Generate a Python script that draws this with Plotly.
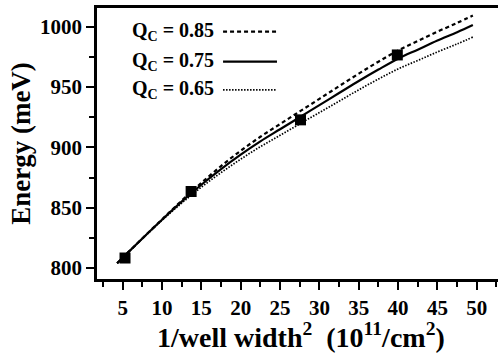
import plotly.graph_objects as go

# ---- data ----
x_curve = [4.3, 5, 7.5, 10, 12.5, 15, 17.5, 20, 22.5, 25, 27.5, 30, 32.5, 35, 37.5, 40, 42.5, 45, 47.5, 49.5]
e_qc085 = [804, 808.5, 824.5, 840.3, 855.8, 870.5, 884.5, 897.2, 908.8, 919.3, 929.8, 940.2, 950.7, 961.1, 971, 980.3, 988.1, 995.9, 1003.1, 1009.3]
e_qc075 = [804, 808.5, 824.5, 840, 855, 869, 882, 894, 905, 915, 925, 935, 945, 955, 964.5, 973.5, 981, 988.5, 995.5, 1001.5]
e_qc065 = [804, 808.5, 824.3, 839.5, 853.8, 867, 879, 890.2, 900.6, 910, 919.5, 928.9, 938.3, 947.7, 956.6, 965, 972, 979.1, 985.7, 991.4]

x_exp = [5.3, 13.7, 27.6, 39.9]
e_exp = [808.3, 863.4, 922.8, 976.6]

legend_labels = ["Q<sub>C</sub> = 0.85", "Q<sub>C</sub> = 0.75", "Q<sub>C</sub> = 0.65"]
legend_dashes = ["4px,3px", "solid", "1.5px,1.5px"]

x_ticks = [5, 10, 15, 20, 25, 30, 35, 40, 45, 50]
y_ticks = [800, 850, 900, 950, 1000]

x_title = "<b>1/well width<sup>2</sup>\u00a0\u00a0(10<sup>11</sup>/cm<sup>2</sup>)</b>"
y_title = "<b>Energy (meV)</b>"

FONT = "Liberation Serif"

fig = go.Figure()
fig.add_trace(go.Scatter(x=x_curve, y=e_qc085, mode="lines", line=dict(color="black", width=2.2, dash=legend_dashes[0], shape="spline"), showlegend=False))
fig.add_trace(go.Scatter(x=x_curve, y=e_qc075, mode="lines", line=dict(color="black", width=2.2, dash=legend_dashes[1], shape="spline"), showlegend=False))
fig.add_trace(go.Scatter(x=x_curve, y=e_qc065, mode="lines", line=dict(color="black", width=1.7, dash=legend_dashes[2], shape="spline"), showlegend=False))
fig.add_trace(go.Scatter(x=x_exp, y=e_exp, mode="markers", marker=dict(symbol="square", size=11, color="black"), showlegend=False))

# custom legend (text left, line sample right)
rows_y = [0.9126, 0.802, 0.698]
for lab, dsh, yy in zip(legend_labels, legend_dashes, rows_y):
    fig.add_annotation(x=0.078, y=yy, xref="paper", yref="paper", text="<b>" + lab + "</b>", showarrow=False,
                       xanchor="left", yanchor="middle",
                       font=dict(family=FONT, size=20, color="black", weight=700))
    fig.add_shape(type="line", xref="paper", yref="paper", x0=0.298, x1=0.4255, y0=yy, y1=yy,
                  line=dict(color="black", width=2.2 if dsh != "1.5px,1.5px" else 1.7, dash=dsh))

# x-axis title (placed as annotation so it is centred like the original)
fig.add_annotation(x=0.482, y=-0.209, xref="paper", yref="paper", text=x_title, showarrow=False,
                   xanchor="center", yanchor="middle",
                   font=dict(family=FONT, size=28, color="black", weight=700))

axis_common = dict(showline=True, linecolor="black", linewidth=2.5, ticks="outside",
                   tickwidth=2, ticklen=8, tickcolor="black", showgrid=False, zeroline=False,
                   automargin=False,
                   tickfont=dict(family=FONT, size=21, color="black", weight=700))

fig.update_layout(
    width=520, height=362,
    margin=dict(l=97, r=0, t=8, b=83),
    paper_bgcolor="white", plot_bgcolor="white",
    xaxis=dict(range=[1.74, 55.49], tickvals=x_ticks, ticktext=["<b>%d</b>" % v for v in x_ticks], mirror=True,
               minor=dict(dtick=2.5, tick0=0, ticks="outside", ticklen=5, tickwidth=2, tickcolor="black"),
               **axis_common),
    yaxis=dict(range=[790.9, 1015.5], tickvals=y_ticks, ticktext=["<b>%d</b>" % v for v in y_ticks],
               minor=dict(dtick=25, tick0=0, ticks="outside", ticklen=5, tickwidth=2, tickcolor="black"),
               title=dict(text=y_title, font=dict(family=FONT, size=27, color="black"), standoff=2),
               **axis_common),
)

fig.write_html("out.html", config={"displayModeBar": False},
               post_script="document.body.style.margin='0';document.body.style.padding='0';document.body.style.overflow='hidden';document.documentElement.style.overflow='hidden';")
